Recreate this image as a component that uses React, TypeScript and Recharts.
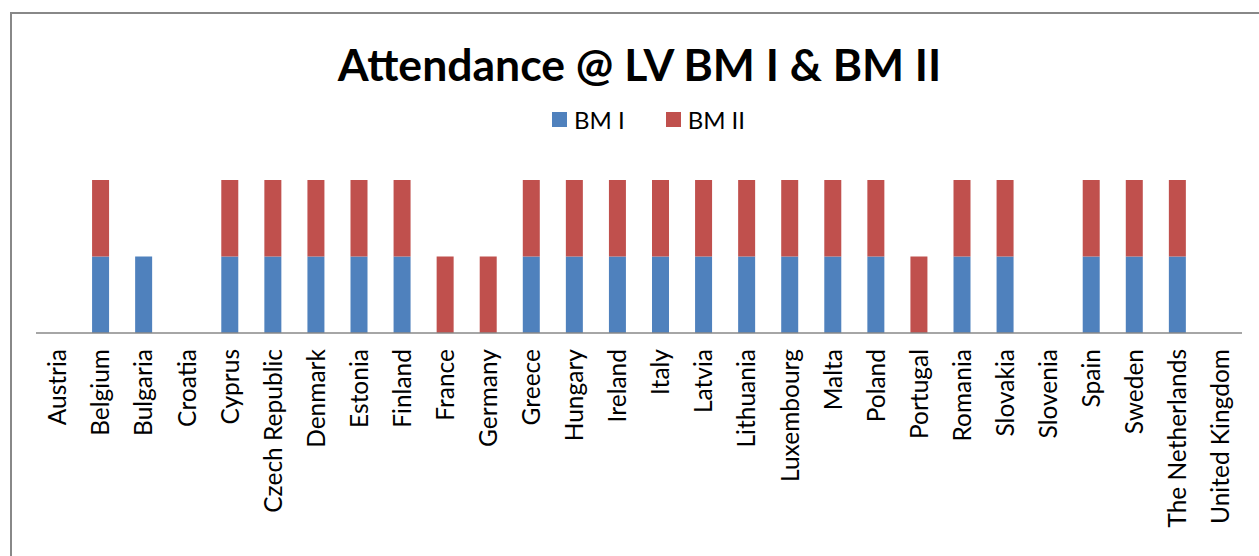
import React from 'react';
import { BarChart, Bar, XAxis, YAxis, Legend } from 'recharts';

const countries = [
  'Austria', 'Belgium', 'Bulgaria', 'Croatia', 'Cyprus', 'Czech Republic', 'Denmark', 'Estonia',
  'Finland', 'France', 'Germany', 'Greece', 'Hungary', 'Ireland', 'Italy', 'Latvia', 'Lithuania',
  'Luxembourg', 'Malta', 'Poland', 'Portugal', 'Romania', 'Slovakia', 'Slovenia', 'Spain', 'Sweden',
  'The Netherlands', 'United Kingdom',
];
const bm1 = [0, 1, 1, 0, 1, 1, 1, 1, 1, 0, 0, 1, 1, 1, 1, 1, 1, 1, 1, 1, 0, 1, 1, 0, 1, 1, 1, 0];
const bm2 = [0, 1, 0, 0, 1, 1, 1, 1, 1, 1, 1, 1, 1, 1, 1, 1, 1, 1, 1, 1, 1, 1, 1, 0, 1, 1, 1, 0];
const seriesNames = ['BM I', 'BM II'];
const colors = ['#4F81BD', '#C0504D'];

const data = countries.map((c, i) => ({ country: c, bm1: bm1[i], bm2: bm2[i] }));

const FONT = 'Lato, "Open Sans", sans-serif';

const Tick = (props: any) => {
  const { x, y, payload } = props;
  const ty = y + 8;
  return (
    <text
      x={x}
      y={ty}
      dy="0.36em"
      transform={`rotate(-90, ${x}, ${ty})`}
      textAnchor="end"
      fontFamily={FONT}
      fontSize={24.5}
      fill="#000"
    >
      {payload.value}
    </text>
  );
};

const LegendContent = () => (
  <div style={{ display: 'flex', justifyContent: 'center', fontFamily: FONT, fontSize: 24, color: '#000', paddingLeft: 38 }}>
    {seriesNames.map((n, i) => (
      <div key={n} style={{ display: 'flex', alignItems: 'center', marginLeft: i === 0 ? 0 : 41 }}>
        <span style={{ display: 'inline-block', width: 15, height: 15, background: colors[i], marginRight: 7 }} />
        <span>{n}</span>
      </div>
    ))}
  </div>
);

export default function App() {
  return (
    <div style={{ position: 'absolute', left: 0, top: 0, width: 1259, height: 556, overflow: 'hidden', background: '#fff' }}>
      <div
        style={{
          position: 'absolute', left: 10, top: 12, width: 1400, height: 700,
          border: '2.5px solid #888', boxSizing: 'border-box',
        }}
      />
      <div
        style={{
          position: 'absolute', left: 10, top: 38, width: 1259, textAlign: 'center',
          fontFamily: FONT, fontWeight: 700, fontSize: 44.5, color: '#000', lineHeight: '52px',
        }}
      >
        Attendance @ LV BM I &amp; BM II
      </div>
      <div style={{ position: 'absolute', left: 0, top: 0 }}>
        <BarChart
          width={1259}
          height={556}
          data={data}
          margin={{ top: 180, right: 17, left: 36, bottom: 0 }}
          barSize={17}
        >
          <XAxis
            dataKey="country"
            interval={0}
            height={223}
            tickLine={false}
            axisLine={{ stroke: '#888', strokeWidth: 1.5 }}
            tick={<Tick />}
          />
          <YAxis hide domain={[0, 2]} />
          <Legend
            verticalAlign="middle"
            align="center"
            content={<LegendContent />}
            wrapperStyle={{ top: 105, left: 0, width: 1259, height: 30 }}
          />
          <Bar dataKey="bm1" name="BM I" stackId="a" fill={colors[0]} isAnimationActive={false} />
          <Bar dataKey="bm2" name="BM II" stackId="a" fill={colors[1]} isAnimationActive={false} />
        </BarChart>
      </div>
    </div>
  );
}
